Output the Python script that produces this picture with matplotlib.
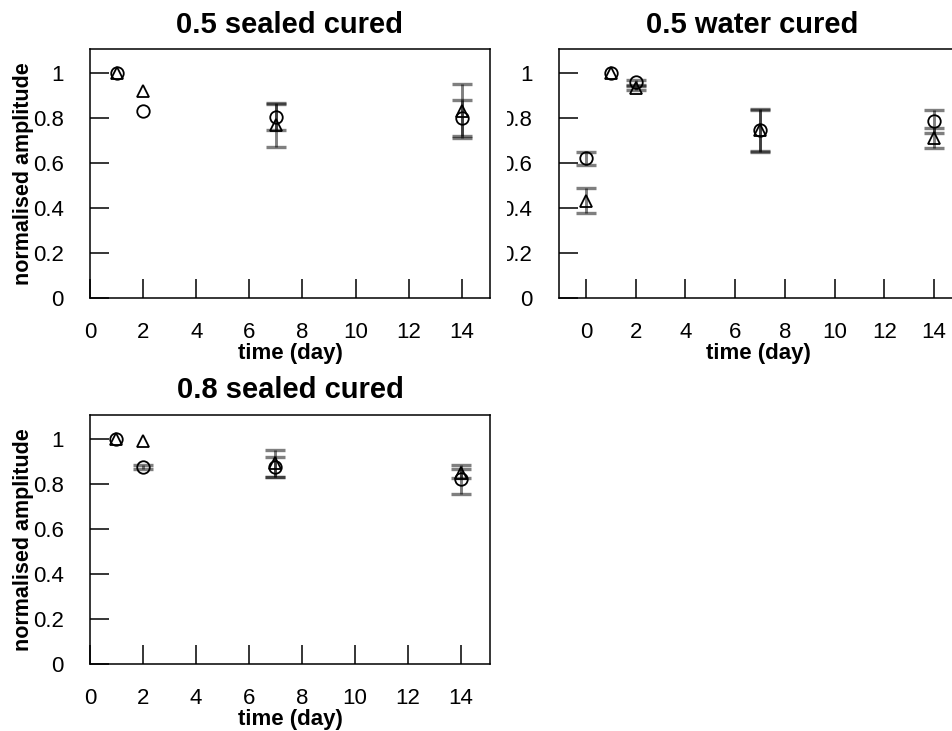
import numpy as np
import matplotlib
matplotlib.use('Agg')
import matplotlib.pyplot as plt
from matplotlib.transforms import Bbox

plt.rcParams['font.family'] = ['Liberation Sans', 'DejaVu Sans']

# 0.5 sealed cured
days_a = [1, 2, 7, 14]
circ_a = [1.0, 0.829, 0.806, 0.798]
circ_err_a = [np.nan, np.nan, 0.06, 0.08]
tri_a = [1.0, 0.921, 0.768, 0.832]
tri_err_a = [np.nan, np.nan, 0.095, 0.12]

# 0.5 water cured
days_b = [0, 1, 2, 7, 14]
circ_b = [0.62, 1.0, 0.958, 0.745, 0.785]
circ_err_b = [0.03, np.nan, 0.01, 0.09, 0.05]
tri_b = [0.432, 1.0, 0.933, 0.745, 0.711]
tri_err_b = [0.055, np.nan, 0.01, 0.095, 0.045]

# 0.8 sealed cured
days_c = [1, 2, 7, 14]
circ_c = [1.0, 0.874, 0.874, 0.82]
circ_err_c = [np.nan, 0.008, 0.045, 0.065]
tri_c = [1.0, 0.992, 0.892, 0.848]
tri_err_c = [np.nan, np.nan, 0.06, 0.02]

titles = ['0.5 sealed cured', '0.5 water cured', '0.8 sealed cured']
xticks = [0, 2, 4, 6, 8, 10, 12, 14]
yticks = [0, 0.2, 0.4, 0.6, 0.8, 1.0]
ytick_labels = ['0', '0.2', '0.4', '0.6', '0.8', '1']

fig = plt.figure(figsize=(9.53, 7.31), dpi=100)
ax1 = fig.add_axes([0.0944, 0.5923, 0.4197, 0.3402])
ax2 = fig.add_axes([0.5863, 0.5923, 0.4197, 0.3402])
ax3 = fig.add_axes([0.0944, 0.0912, 0.4197, 0.341])

panels = [
    (ax1, days_a, circ_a, circ_err_a, tri_a, tri_err_a, (0, 15.06)),
    (ax2, days_b, circ_b, circ_err_b, tri_b, tri_err_b, (-1.1, 15.0)),
    (ax3, days_c, circ_c, circ_err_c, tri_c, tri_err_c, (0, 15.1)),
]

for i, (ax, d, c, ce, t, te, xl) in enumerate(panels):
    for vals, errs in ((c, ce), (t, te)):
        ax.errorbar(d, vals, yerr=errs, fmt='none', ecolor='black', alpha=0.5,
                    elinewidth=2.1, capsize=7, capthick=2.4, zorder=2)
    ax.plot(d, c, 'o', ms=9, mfc='none', mec='black', mew=1.3, zorder=3)
    ax.plot(d, t, '^', ms=8, mfc='none', mec='black', mew=1.3, zorder=3)

    ax.set_xlim(*xl)
    ax.set_ylim(0, 1.105)
    ax.set_xticks(xticks)
    ax.set_yticks(yticks)
    ax.set_yticklabels(ytick_labels)
    ax.tick_params(direction='in', length=14, width=1.1, labelsize=16, pad=19)
    ax.tick_params(axis='x', pad=17)
    for s in ax.spines.values():
        s.set_linewidth(1.1)
    ax.set_xlabel('time (day)', fontsize=16, fontweight='bold', labelpad=0)
    if ax is not ax2:
        ax.set_ylabel('normalised amplitude', fontsize=15.5, fontweight='bold', labelpad=-1)

ax1.set_title(titles[0], fontsize=21, fontweight='bold', pad=12)
ax3.set_title(titles[2], fontsize=21, fontweight='bold', pad=12)
ax2.set_title(titles[1], fontsize=21, fontweight='bold', pad=12, x=0.483)

# the right panel's tick labels are cut off by the left panel's region
clip = Bbox.from_extents(507, 0, 1000, 800)
for lab in ax2.get_yticklabels():
    lab.set_clip_box(clip)
    lab.set_clip_on(True)

fig.savefig('out.png', dpi=100)
